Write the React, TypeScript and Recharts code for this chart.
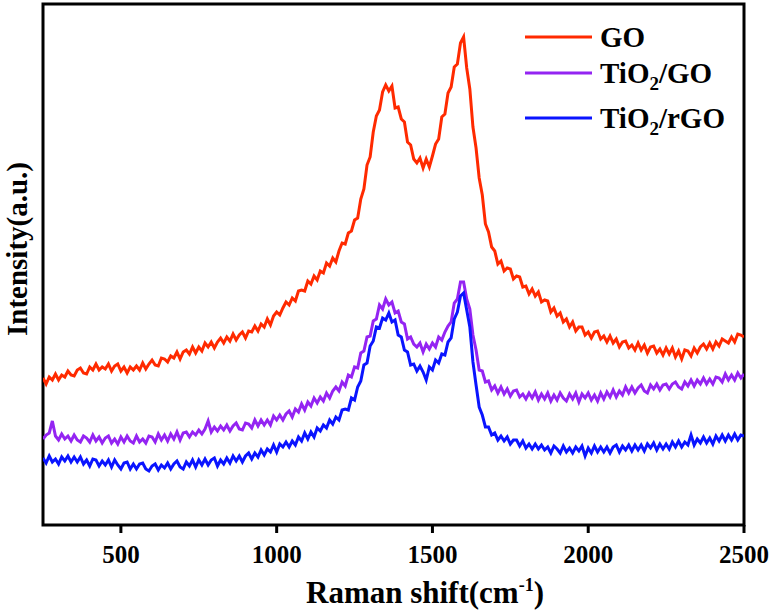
import React from 'react';
import { LineChart, Line, XAxis, YAxis, ReferenceArea, Legend } from 'recharts';

const X_START = 250;
const X_STEP = 10;

const GO = [
  147,141,148,145,151,145,150,148,154,150,
  149,155,157,152,151,158,155,161,155,158,
  156,161,154,159,161,154,158,152,158,155,
  159,155,162,156,161,165,160,159,167,166,
  163,169,167,173,166,173,175,171,178,172,
  178,174,182,178,183,177,183,187,182,188,
  184,191,185,190,193,187,194,193,199,194,
  201,198,206,200,209,213,210,217,223,220,
  227,224,234,235,234,244,241,249,245,254,
  252,262,259,267,263,274,282,281,292,294,
  305,307,326,336,360,368,393,409,415,433,
  440,434,439,417,418,406,403,383,380,366,
  362,367,357,366,358,369,381,386,408,411,
  432,438,458,461,482,488,457,436,398,377,
  347,330,301,293,278,274,261,264,254,257,
  256,246,249,248,238,239,231,236,229,233,
  223,225,224,213,217,209,212,203,206,198,
  203,194,198,198,190,193,187,193,194,186,
  189,183,189,182,186,178,183,184,177,180,
  175,182,175,180,172,178,179,172,176,170,
  177,171,177,168,174,166,175,174,169,177,
  172,178,181,176,182,176,183,179,186,184,
  182,188,183,191,190,188,
];

const TIO2_GO = [
  86,90,92,104,89,85,91,86,89,84,
  90,85,83,89,87,83,90,84,88,82,
  87,89,82,86,81,88,83,89,84,82,
  89,83,86,82,89,88,83,91,85,90,
  84,91,86,93,85,92,93,88,93,90,
  95,91,96,104,93,98,94,99,95,100,
  94,99,102,96,95,102,101,97,105,99,
  105,100,105,100,109,105,110,105,111,114,
  108,116,113,121,115,123,119,127,122,128,
  124,132,127,134,138,134,143,139,150,148,
  158,157,172,174,188,189,204,206,220,216,
  226,220,223,212,214,203,201,186,188,181,
  178,182,173,181,176,182,178,188,185,193,
  199,203,222,226,243,243,226,216,190,175,
  155,154,143,144,135,139,132,138,131,136,
  129,134,135,128,131,126,132,127,133,125,
  131,126,132,124,130,125,132,127,124,131,
  126,132,123,131,127,132,125,130,124,132,
  126,133,128,135,128,134,130,138,132,138,
  132,137,140,134,132,140,136,141,135,140,
  141,136,141,143,138,136,143,139,145,139,
  145,141,147,141,146,141,148,147,143,151,
  145,150,145,152,147,151,
];

const TIO2_RGO = [
  67,62,69,63,66,61,68,64,69,63,
  68,63,68,61,65,59,66,65,59,64,
  60,65,58,65,60,56,62,63,56,61,
  56,61,62,56,54,59,61,55,60,57,
  62,56,61,64,58,56,63,59,65,58,
  65,60,66,60,65,67,59,65,61,67,
  62,69,64,69,63,69,72,66,72,68,
  75,70,76,73,80,73,81,78,83,78,
  84,80,88,84,92,86,93,88,97,94,
  100,97,105,101,108,105,115,116,115,127,
  125,138,144,160,162,179,184,198,197,207,
  205,212,203,205,190,188,175,173,160,161,
  154,159,153,145,158,155,165,162,171,170,
  183,187,206,213,229,232,215,198,163,140,
  118,110,98,98,90,92,85,89,84,88,
  81,85,85,79,84,77,81,76,81,76,
  80,75,78,72,79,76,72,79,73,77,
  72,78,74,79,69,77,72,79,73,78,
  73,78,72,78,80,73,79,75,80,74,
  80,75,80,74,81,77,82,75,81,76,
  81,76,83,78,84,78,83,80,90,80,
  86,82,88,82,87,81,89,84,90,84,
  90,85,91,85,90,89,
];

const X_TICKS = [500, 1000, 1500, 2000, 2500];
const X_DOMAIN = [250, 2500];
const Y_DOMAIN = [0, 521];
const SERIES_NAMES = ['GO', 'TiO2/GO', 'TiO2/rGO'];
const SERIES_KEYS = ['go', 'tgo', 'trgo'];
const SERIES_COLORS = ['#ff2a00', '#9424f2', '#0a14ff'];

const data = GO.map((v, i) => ({
  x: X_START + i * X_STEP,
  go: v,
  tgo: TIO2_GO[i],
  trgo: TIO2_RGO[i],
}));

const FONT = '"Liberation Serif", "Times New Roman", serif';

const renderName = (name: string) => {
  if (name.startsWith('TiO2')) {
    const rest = name.slice(4);
    return [
      <tspan key="a">TiO</tspan>,
      <tspan key="b" dy={7} fontSize={19}>2</tspan>,
      <tspan key="c" dy={-7}>{rest}</tspan>,
    ];
  }
  return name;
};

const renderLegend = (props: any) => {
  const payload = props.payload || [];
  const rows = [
    { lineY: 37, textY: 47 },
    { lineY: 73, textY: 83 },
    { lineY: 118, textY: 128 },
  ];
  return (
    <svg width={240} height={140} style={{ display: 'block', overflow: 'visible' }}>
      {payload.map((entry: any, i: number) => {
        const r = rows[i] || rows[rows.length - 1];
        return (
          <g key={i}>
            <line x1={25} x2={92} y1={r.lineY} y2={r.lineY} stroke={entry.color} strokeWidth={3} />
            <text x={100} y={r.textY} fontFamily={FONT} fontWeight="bold" fontSize={29} fill="#000">
              {renderName(String(entry.value))}
            </text>
          </g>
        );
      })}
    </svg>
  );
};

const XTitle = () => (
  <text x={425} y={603} textAnchor="middle" fontFamily={FONT} fontWeight="bold" fontSize={31} fill="#000">
    Raman shift(cm
    <tspan dy={-12} fontSize={18}>-1</tspan>
    <tspan dy={12}>)</tspan>
  </text>
);

const YTitle = () => (
  <text
    x={27}
    y={249}
    transform="rotate(-90, 27, 249)"
    textAnchor="middle"
    fontFamily={FONT}
    fontWeight="bold"
    fontSize={29}
    fill="#000"
  >
    Intensity(a.u.)
  </text>
);

export default function App() {
  return (
    <div style={{ position: 'absolute', left: 0, top: 0, width: 774, height: 612, background: '#fff' }}>
      <LineChart width={774} height={612} data={data} margin={{ top: 4, right: 30, left: 0, bottom: 0 }}>
        <XAxis
          dataKey="x"
          type="number"
          domain={X_DOMAIN}
          ticks={X_TICKS}
          allowDataOverflow
          axisLine={false}
          tickLine={{ stroke: '#000', strokeWidth: 3 }}
          tickSize={8}
          tickMargin={12}
          height={87}
          tick={{ fontSize: 25, fontWeight: 'bold', fill: '#000', fontFamily: FONT }}
          label={{ content: () => <XTitle /> }}
        />
        <YAxis
          type="number"
          domain={Y_DOMAIN}
          allowDataOverflow
          tick={false}
          tickLine={false}
          axisLine={false}
          width={43}
          label={{ content: () => <YTitle /> }}
        />
        {SERIES_KEYS.map((k, i) => (
          <Line
            key={k}
            type="linear"
            dataKey={k}
            name={SERIES_NAMES[i]}
            stroke={SERIES_COLORS[i]}
            strokeWidth={3}
            strokeLinejoin="miter"
            dot={false}
            activeDot={false}
            isAnimationActive={false}
          />
        ))}
        <ReferenceArea
          x1={X_DOMAIN[0]}
          x2={X_DOMAIN[1]}
          y1={Y_DOMAIN[0]}
          y2={Y_DOMAIN[1]}
          fill="none"
          stroke="#000"
          strokeWidth={3}
          ifOverflow="visible"
        />
        <Legend
          layout="vertical"
          align="center"
          verticalAlign="middle"
          wrapperStyle={{ left: 500, top: 0, width: 240, height: 140 }}
          content={renderLegend}
        />
      </LineChart>
    </div>
  );
}
